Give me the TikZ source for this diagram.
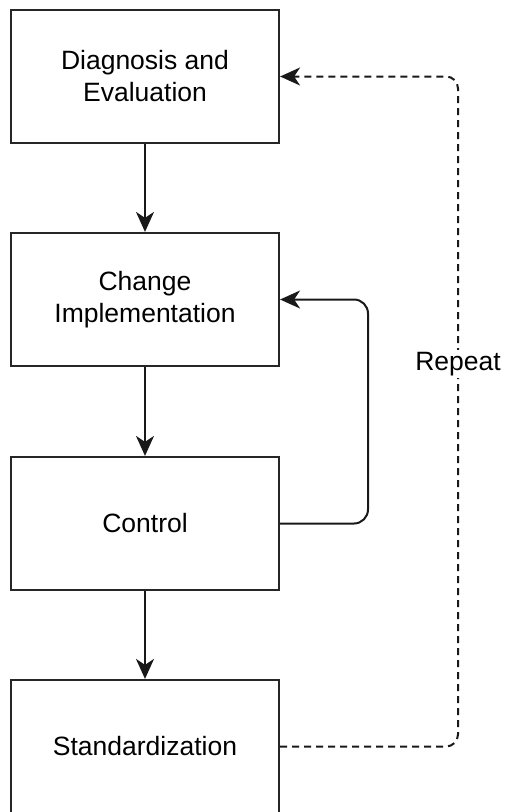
\documentclass[tikz,border=0pt]{standalone}
\usepackage{fontspec}
\setmainfont{Liberation Sans}
\usetikzlibrary{arrows.meta}
\begin{document}
\begin{tikzpicture}[x=1pt,y=-1pt,
  stepbox/.style={draw=black!85, line width=2.2pt, minimum width=268pt, minimum height=133pt, align=center, font=\fontsize{26.5}{32}\selectfont, inner sep=0pt, fill=white},
  conn/.style={draw=black!90, line width=2pt, -{Stealth[length=20pt, width=18pt, inset=6pt]}},
  lbl/.style={font=\fontsize{26.5}{32}\selectfont, fill=white, inner sep=2pt}
]
\useasboundingbox (0,0) rectangle (507,812);
\node[stepbox] (d) at (145,76.5) {Diagnosis and\\Evaluation};
\node[stepbox] (c) at (145,299.5) {Change\\Implementation};
\node[stepbox] (k) at (145,523.5) {Control};
\node[stepbox] (s) at (145,746.5) {Standardization};
\draw[conn] (d) -- (c);
\draw[conn] (c) -- (k);
\draw[conn] (k) -- (s);
\draw[conn, rounded corners=14pt] (k.east) -- (368,523.5) -- (368,299.5) -- (c.east);
\coordinate (r1) at (458,746.5);
\coordinate (r2) at (458,76.5);
\draw[conn, dash pattern=on 7pt off 5pt, rounded corners=12pt] (s.east) -- (r1) -- (r2) -- (d.east);
\node[lbl] (rep) at (458,364) {Repeat};
\end{tikzpicture}
\end{document}
